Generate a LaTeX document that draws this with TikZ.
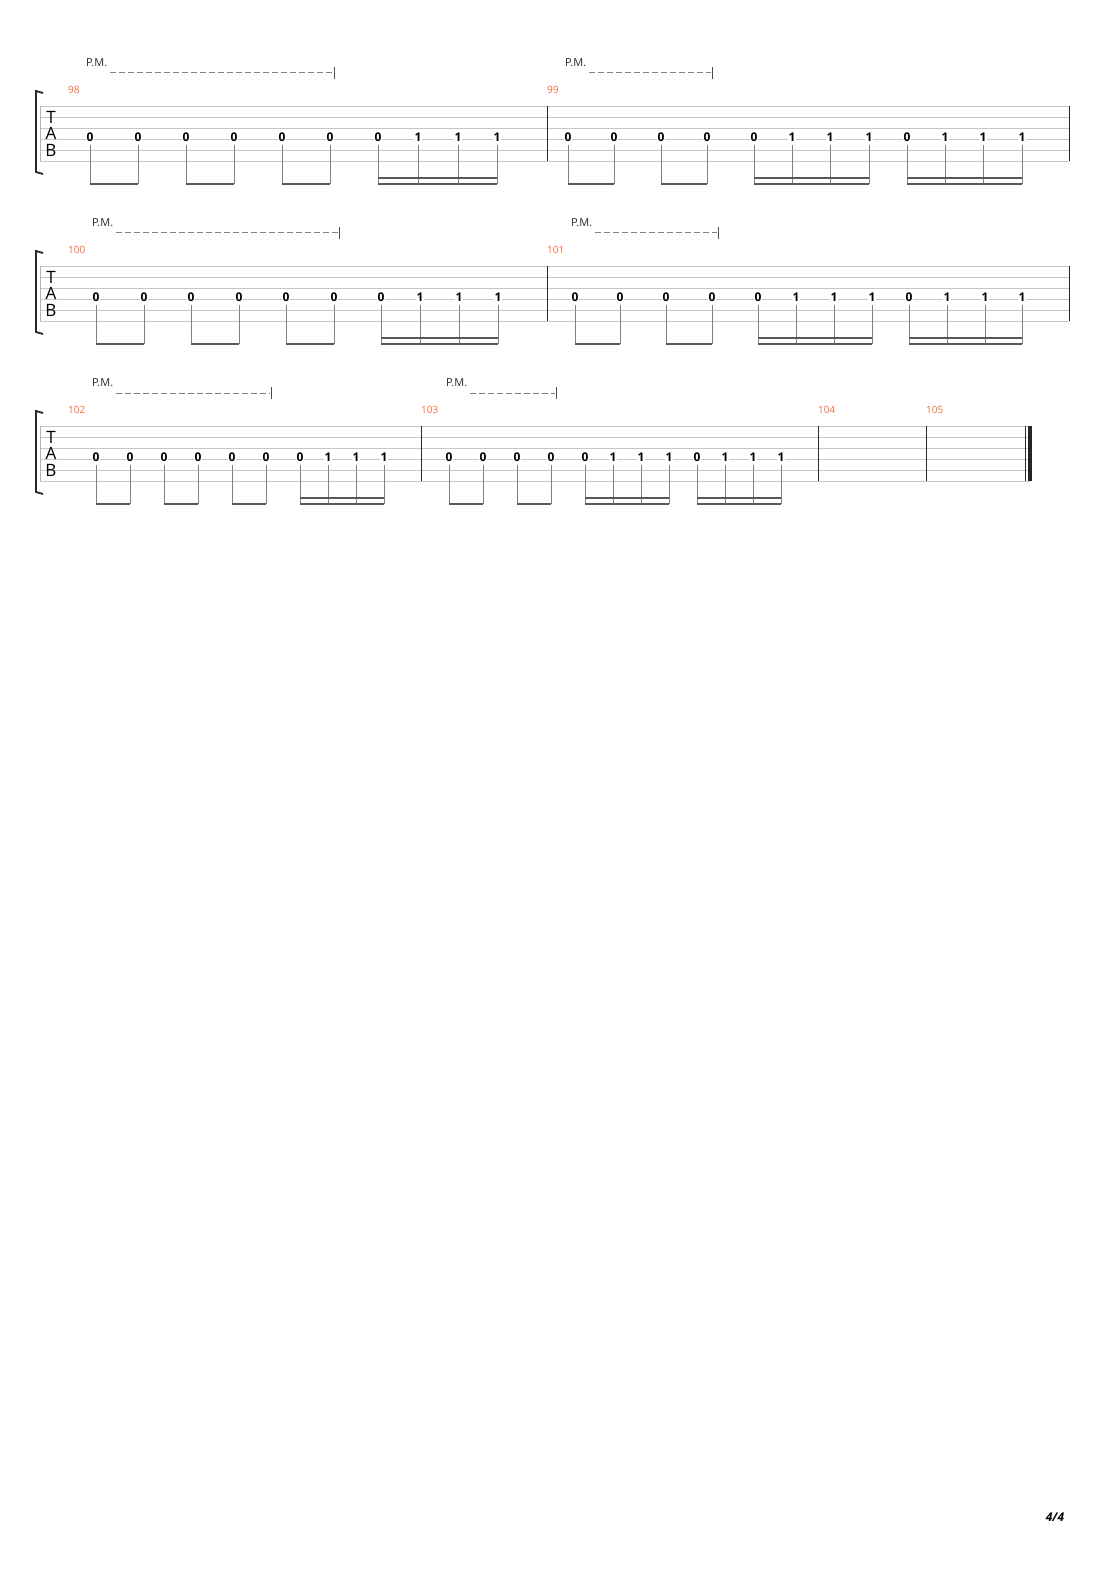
\documentclass[tikz,border=0pt]{standalone}
\usepackage{fontspec}
\setmainfont{Open Sans}
\usepackage{xcolor}
\definecolor{barorange}{RGB}{240,110,60}
\begin{document}
\begin{tikzpicture}[x=1pt,y=-1pt,
        tabline/.style={gray!45,line width=0.8pt},
        stem/.style={gray,line width=0.8pt},
        beam/.style={gray!70!black,line width=2.2pt},
        fret/.style={fill=white,inner sep=0.6pt,font=\bfseries\fontsize{12}{12}\selectfont},
        barnum/.style={text=barorange,font=\fontsize{10}{10}\selectfont,anchor=west,inner sep=0pt},
        pm/.style={gray!30!black,font=\fontsize{11}{11}\selectfont,anchor=west,inner sep=0pt}]
        \useasboundingbox (0,0) rectangle (1110,1570);
        % staves
        \foreach \top/\right in {106/1069,266/1069,426/1030}{
            \foreach \s in {0,...,5}
                \draw[tabline] (40,\top+11*\s) -- (\right,\top+11*\s);
            \draw[gray!60,line width=0.6pt] (40,\top) -- (40,\top+55);
            \draw[line width=1.8pt,black!85] (43,\top-13) -- (36,\top-15) -- (36,\top+66) -- (43,\top+68);
            \node[font=\fontsize{17}{17}\selectfont,inner sep=0pt] at (51,\top+11) {T};
            \node[font=\fontsize{17}{17}\selectfont,inner sep=0pt] at (51,\top+27) {A};
            \node[font=\fontsize{17}{17}\selectfont,inner sep=0pt] at (51,\top+44) {B};
        }
        % bar lines
        \foreach \x/\top in {547/106,1069/106,547/266,1069/266,421/426,818/426,926/426,1025/426}
            \draw[black!85,line width=0.8pt] (\x,\top) -- (\x,\top+55);
        \fill[black!85] (1028,426) rectangle (1031.5,481);
        % bar numbers
        \foreach \x/\y/\n in {68/90/98,547/90/99,68/250/100,547/250/101,68/410/102,421/410/103,818/410/104,926/410/105}
            \node[barnum] (bn\n) at (\x,\y) {\n};
        % palm mute
        \foreach \x/\y/\e in {86/63/333,565/63/711,92/223/338,571/223/717,92/383/270,446/383/555}{
            \node[pm] (pm\x) at (\x,\y) {P.M.};
            \coordinate (d\x) at (0,\y+10);
            \draw[gray,dash pattern=on 6pt off 3pt,line width=1pt] ([xshift=3pt]pm\x.east |- d\x) -- (\e,\y+10);
            \draw[gray!60!black,line width=0.9pt] (\e+1,\y+4) -- (\e+1,\y+16);
        }
        % notes: x / fret, per row
        \foreach \top/\notes in {
            106/{90/0,138/0,186/0,234/0,282/0,330/0,378/0,418/1,458/1,497/1,568/0,614/0,661/0,707/0,754/0,792/1,830/1,869/1,907/0,945/1,983/1,1022/1},
            266/{96/0,144/0,191/0,239/0,286/0,334/0,381/0,420/1,459/1,498/1,575/0,620/0,666/0,712/0,758/0,796/1,834/1,872/1,909/0,947/1,985/1,1022/1},
            426/{96/0,130/0,164/0,198/0,232/0,266/0,300/0,328/1,356/1,384/1,449/0,483/0,517/0,551/0,585/0,613/1,641/1,669/1,697/0,725/1,753/1,781/1}}{
            \foreach \x/\f in \notes{
                \draw[stem] (\x,\top+39) -- (\x,\top+78);
                \node[fret] at (\x,\top+31) {\f};
            }
        }
        % eighth beams
        \foreach \top/\pairs in {106/{90/138,186/234,282/330,568/614,661/707},
                266/{96/144,191/239,286/334,575/620,666/712},
                426/{96/130,164/198,232/266,449/483,517/551}}{
            \foreach \a/\b in \pairs
                \draw[beam] (\a,\top+78) -- (\b,\top+78);
        }
        % sixteenth beams
        \foreach \top/\groups in {106/{378/497,754/869,907/1022},
                266/{381/498,758/872,909/1022},
                426/{300/384,585/669,697/781}}{
            \foreach \a/\b in \groups{
                \draw[beam] (\a,\top+78) -- (\b,\top+78);
                \draw[beam] (\a,\top+72) -- (\b,\top+72);
            }
        }
        \node[font=\bfseries\itshape\fontsize{12}{12}\selectfont] (page) at (1055,1517) {4/4};
\end{tikzpicture}
\end{document}
